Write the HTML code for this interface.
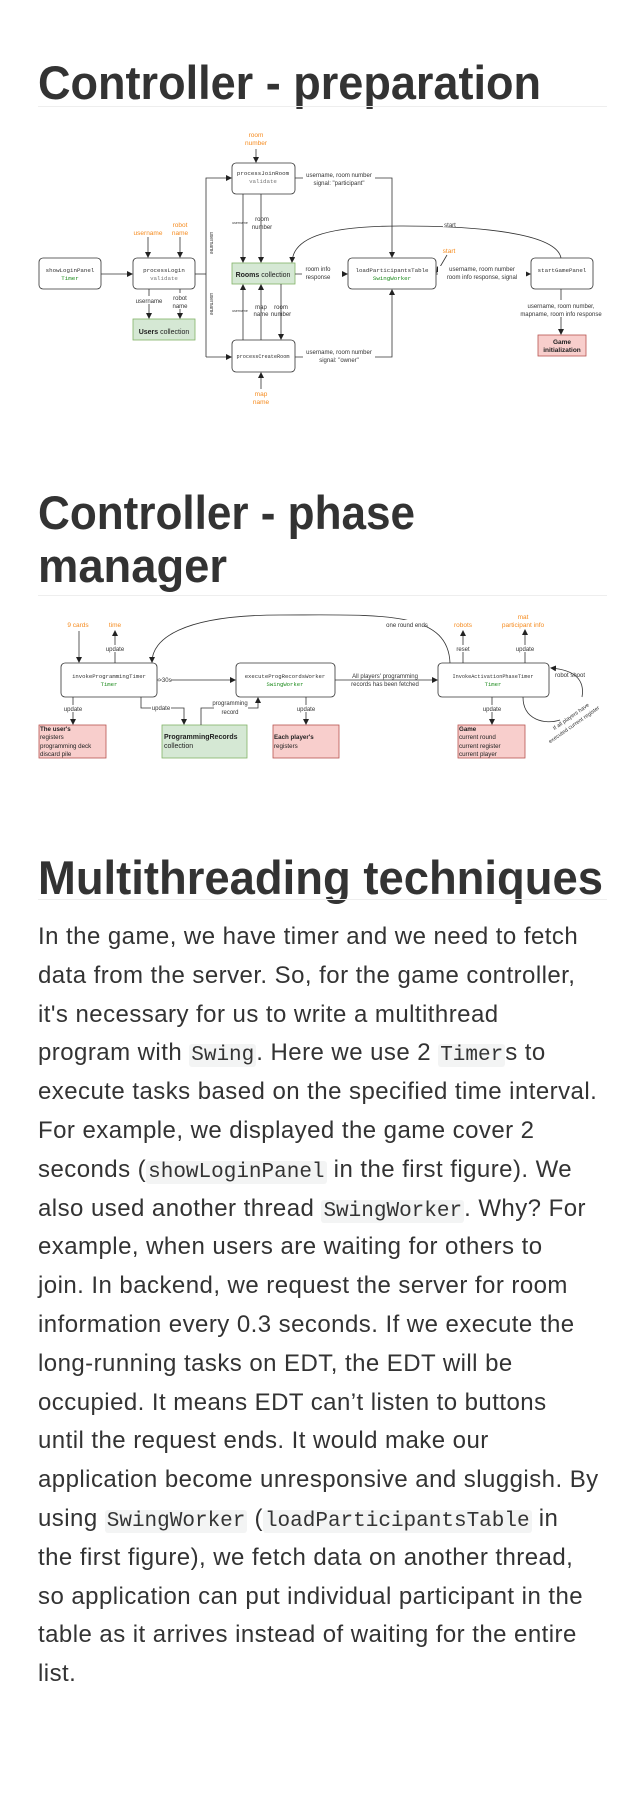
<!DOCTYPE html>
<html><head><meta charset="utf-8"><style>
html,body{margin:0;padding:0;background:#fff;}
body{width:640px;height:1807px;position:relative;overflow:hidden;}
.t{position:absolute;left:38px;font-family:"Liberation Sans",sans-serif;font-size:24px;letter-spacing:0.45px;line-height:39px;color:#333;white-space:nowrap;}
.t div{height:38.8px;line-height:39px;}
code{font-family:"Liberation Mono",monospace;font-size:21px;letter-spacing:0;background:#f3f4f4;border-radius:3px;padding:0 2px;line-height:0;}
svg{position:absolute;left:0;top:0;}
</style></head><body>
<svg width="640" height="1807" viewBox="0 0 640 1807" font-family="Liberation Sans, sans-serif">
<defs>
<marker id="a" markerWidth="6" markerHeight="6" refX="5" refY="3" orient="auto" markerUnits="userSpaceOnUse"><path d="M0,0 L6,3 L0,6 z" fill="#222"/></marker>
</defs>
<g fill="#333" font-weight="bold" font-size="47">
<text x="38" y="99" textLength="503" lengthAdjust="spacingAndGlyphs">Controller - preparation</text>
<text x="38" y="529" textLength="377" lengthAdjust="spacingAndGlyphs">Controller - phase</text>
<text x="38" y="582" textLength="189" lengthAdjust="spacingAndGlyphs">manager</text>
<text x="38" y="894" textLength="565" lengthAdjust="spacingAndGlyphs">Multithreading techniques</text>
</g>
<g fill="#eee"><rect x="38" y="106" width="569" height="1"/><rect x="38" y="595" width="569" height="1"/><rect x="38" y="899" width="569" height="1"/></g>

<g stroke="#333" stroke-width="0.8" fill="none">
<rect x="39" y="258" width="62" height="31" rx="4" fill="#fff"/>
<rect x="133" y="258" width="62" height="31" rx="4" fill="#fff"/>
<rect x="232" y="163" width="63" height="31" rx="4" fill="#fff"/>
<rect x="232" y="340" width="63" height="32" rx="4" fill="#fff"/>
<rect x="348" y="258" width="88" height="31" rx="4" fill="#fff"/>
<rect x="531" y="258" width="62" height="31" rx="4" fill="#fff"/>
<rect x="232" y="263" width="63" height="21" fill="#d5e8d4" stroke="#82b366"/>
<rect x="133" y="319" width="62" height="21" fill="#d5e8d4" stroke="#82b366"/>
<rect x="538" y="335" width="48" height="21" fill="#f8cecc" stroke="#b85450"/>
<line x1="256" y1="149" x2="256" y2="162" marker-end="url(#a)"/>
<line x1="101" y1="274" x2="132" y2="274" marker-end="url(#a)"/>
<line x1="148" y1="237" x2="148" y2="257" marker-end="url(#a)"/>
<line x1="180" y1="237" x2="180" y2="257" marker-end="url(#a)"/>
<line x1="149" y1="289" x2="149" y2="318" marker-end="url(#a)"/>
<line x1="180" y1="289" x2="180" y2="318" marker-end="url(#a)"/>
<polyline points="195,274 206,274"/>
<polyline points="206,357 206,178 231,178" marker-end="url(#a)"/>
<polyline points="206,357 231,357" marker-end="url(#a)"/>
<line x1="243" y1="194" x2="243" y2="262" marker-end="url(#a)"/>
<line x1="261" y1="194" x2="261" y2="262" marker-end="url(#a)"/>
<line x1="243" y1="340" x2="243" y2="285" marker-end="url(#a)"/>
<line x1="261" y1="340" x2="261" y2="285" marker-end="url(#a)"/>
<line x1="281" y1="284" x2="281" y2="339" marker-end="url(#a)"/>
<line x1="261" y1="389" x2="261" y2="373" marker-end="url(#a)"/>
<polyline points="295,178 392,178 392,257" marker-end="url(#a)"/>
<polyline points="295,357 392,357 392,290" marker-end="url(#a)"/>
<line x1="295" y1="274" x2="347" y2="274" marker-end="url(#a)"/>
<line x1="436" y1="274" x2="530" y2="274" marker-end="url(#a)"/>
<line x1="447" y1="255" x2="437" y2="272" marker-end="url(#a)"/>
<line x1="561" y1="289" x2="561" y2="334" marker-end="url(#a)"/>
<path d="M561,258 C555,225 420,226 400,226 C320,226 293,240 292,262" marker-end="url(#a)"/>
</g>
<g fill="#fff"><rect x="303" y="172" width="72" height="14"/><rect x="303" y="350" width="72" height="13"/><rect x="438" y="266" width="88" height="14"/><rect x="524" y="300" width="76" height="17"/><rect x="443" y="220" width="14" height="7"/><rect x="302" y="265" width="40" height="15"/><rect x="138" y="296" width="22" height="8"/><rect x="172" y="293" width="16" height="16"/></g>
<g font-size="6" fill="#333" text-anchor="middle">
<text x="339" y="177">username, room number</text><text x="339" y="185">signal: "participant"</text>
<text x="339" y="354">username, room number</text><text x="339" y="362">signal: "owner"</text>
<text x="318" y="271">room info</text><text x="318" y="279">response</text>
<text x="482" y="271">username,  room number</text><text x="482" y="279">room info response, signal</text>
<text x="561" y="308">username, room number,</text><text x="561" y="316">mapname, room info response</text>
<text x="450" y="227">start</text>
<text x="149" y="303">username</text><text x="180" y="300">robot</text><text x="180" y="308">name</text>
<text x="262" y="221">room</text><text x="262" y="229">number</text>
<text x="261" y="309">map</text><text x="261" y="316">name</text>
<text x="281" y="309">room</text><text x="281" y="316">number</text>
<text x="240" y="224" font-size="3.5">username</text><text x="240" y="312" font-size="3.5">username</text>
<text transform="translate(210,243) rotate(90)" font-size="5">username</text>
<text transform="translate(210,304) rotate(90)" font-size="5">username</text>
</g>
<g font-size="6.5" fill="#f58b1f" text-anchor="middle">
<text x="256" y="137">room</text><text x="256" y="145">number</text>
<text x="148" y="235">username</text><text x="180" y="227">robot</text><text x="180" y="235">name</text>
<text x="261" y="396">map</text><text x="261" y="404">name</text>
<text x="449" y="253">start</text>
</g>
<g font-family="Liberation Mono, monospace" font-size="5.8" text-anchor="middle" fill="#333">
<text x="70" y="272">showLoginPanel</text><text x="70" y="280" fill="#1a8a1a">Timer</text>
<text x="164" y="272">processLogin</text><text x="164" y="280" fill="#777">validate</text>
<text x="263" y="175">processJoinRoom</text><text x="263" y="183" fill="#777">validate</text>
<text x="263" y="358" font-size="5.2">processCreateRoom</text>
<text x="392" y="272">loadParticipantsTable</text><text x="392" y="280" fill="#1a8a1a">SwingWorker</text>
<text x="562" y="272">startGamePanel</text>
</g>
<g font-size="7" text-anchor="middle" fill="#222">
<text x="263" y="277"><tspan font-weight="bold">Rooms</tspan> collection</text>
<text x="164" y="334"><tspan font-weight="bold">Users</tspan> collection</text>
<text x="562" y="344" font-weight="bold" font-size="6.5">Game</text><text x="562" y="352" font-weight="bold" font-size="6.5">initialization</text>
</g>

<g stroke="#333" stroke-width="0.8" fill="none">
<rect x="61" y="663" width="96" height="34" rx="4" fill="#fff"/>
<rect x="236" y="663" width="99" height="34" rx="4" fill="#fff"/>
<rect x="438" y="663" width="111" height="34" rx="4" fill="#fff"/>
<rect x="39" y="725" width="67" height="33" fill="#f8cecc" stroke="#b85450"/>
<rect x="162" y="725" width="85" height="33" fill="#d5e8d4" stroke="#82b366"/>
<rect x="273" y="725" width="66" height="33" fill="#f8cecc" stroke="#b85450"/>
<rect x="458" y="725" width="67" height="33" fill="#f8cecc" stroke="#b85450"/>
<line x1="79" y1="631" x2="79" y2="662" marker-end="url(#a)"/>
<line x1="115" y1="663" x2="115" y2="631" marker-end="url(#a)"/>
<line x1="73" y1="697" x2="73" y2="724" marker-end="url(#a)"/>
<polyline points="141,697 141,708 184,708 184,724" marker-end="url(#a)"/>
<polyline points="201,725 201,708 258,708 258,698" marker-end="url(#a)"/>
<line x1="157" y1="680" x2="235" y2="680" marker-end="url(#a)"/>
<line x1="306" y1="697" x2="306" y2="724" marker-end="url(#a)"/>
<line x1="335" y1="680" x2="437" y2="680" marker-end="url(#a)"/>
<line x1="463" y1="663" x2="463" y2="631" marker-end="url(#a)"/>
<line x1="525" y1="663" x2="525" y2="630" marker-end="url(#a)"/>
<line x1="492" y1="697" x2="492" y2="724" marker-end="url(#a)"/>
<path d="M450,663 C448,610 380,615 280,615 C180,615 152,640 152,662" marker-end="url(#a)"/>
<path d="M523,697 C523,720 545,725 560,720" />
<path d="M582,697 C585,680 575,670 551,668" marker-end="url(#a)"/>
</g>
<g fill="#fff"><rect x="106" y="645" width="20" height="7"/><rect x="454" y="645" width="18" height="7"/><rect x="515" y="645" width="20" height="7"/><rect x="63" y="705" width="20" height="7"/><rect x="151" y="704" width="20" height="7"/><rect x="296" y="705" width="20" height="7"/><rect x="482" y="705" width="20" height="7"/><rect x="159" y="676" width="12" height="7"/><rect x="390" y="620" width="34" height="8"/><rect x="214" y="699" width="34" height="16"/></g>
<g font-size="6" fill="#333" text-anchor="middle">
<text x="115" y="651">update</text><text x="73" y="711">update</text><text x="161" y="710">update</text>
<text x="306" y="711">update</text><text x="492" y="711">update</text>
<text x="463" y="651">reset</text><text x="525" y="651">update</text>
<text x="165" y="682">&gt;30s</text>
<text x="230" y="705">programming</text><text x="230" y="714">record</text>
<text x="385" y="678">All players' programming</text><text x="385" y="686">records has been fetched</text>
<text x="407" y="627">one round ends</text>
<text x="570" y="677">robot shoot</text>
<text transform="translate(572,718) rotate(-35)" font-size="5.5">If all players have</text>
<text transform="translate(575,726) rotate(-35)" font-size="5.5">executed current register</text>
</g>
<g font-size="6.5" fill="#f58b1f" text-anchor="middle">
<text x="78" y="627">9 cards</text><text x="115" y="627">time</text><text x="463" y="627">robots</text>
<text x="523" y="619">mat</text><text x="523" y="627">participant info</text>
</g>
<g font-family="Liberation Mono, monospace" font-size="5.6" text-anchor="middle" fill="#333">
<text x="109" y="678">invokeProgrammingTimer</text><text x="109" y="686" fill="#1a8a1a">Timer</text>
<text x="285" y="678">executeProgRecordsWorker</text><text x="285" y="686" fill="#1a8a1a">SwingWorker</text>
<text x="493" y="678" font-size="5.2">InvokeActivationPhaseTimer</text><text x="493" y="686" fill="#1a8a1a">Timer</text>
</g>
<g font-size="6.2" fill="#222">
<text x="40" y="731" font-weight="bold">The user's</text><text x="40" y="739">registers</text><text x="40" y="748">programming deck</text><text x="40" y="756">discard pile</text>
<text x="164" y="739" font-weight="bold" font-size="7">ProgrammingRecords</text><text x="164" y="748" font-size="7">collection</text>
<text x="274" y="739" font-weight="bold">Each player's</text><text x="274" y="748">registers</text>
<text x="459" y="731" font-weight="bold">Game</text><text x="459" y="739">current round</text><text x="459" y="748">current register</text><text x="459" y="756">current player</text>
</g>
</svg>
<div class="t" style="top:917px">
<div>In the game, we have timer and we need to fetch</div>
<div>data from the server. So, for the game controller,</div>
<div>it's necessary for us to write a multithread</div>
<div>program with <code>Swing</code>. Here we use 2 <code>Timer</code>s to</div>
<div>execute tasks based on the specified time interval.</div>
<div>For example, we displayed the game cover 2</div>
<div>seconds (<code>showLoginPanel</code> in the first figure). We</div>
<div>also used another thread <code>SwingWorker</code>. Why? For</div>
<div>example, when users are waiting for others to</div>
<div>join. In backend, we request the server for room</div>
<div>information every 0.3 seconds. If we execute the</div>
<div>long-running tasks on EDT, the EDT will be</div>
<div>occupied. It means EDT can’t listen to buttons</div>
<div>until the request ends. It would make our</div>
<div>application become unresponsive and sluggish. By</div>
<div>using <code>SwingWorker</code> (<code>loadParticipantsTable</code> in</div>
<div>the first figure), we fetch data on another thread,</div>
<div>so application can put individual participant in the</div>
<div>table as it arrives instead of waiting for the entire</div>
<div>list.</div>
</div>
</body></html>
